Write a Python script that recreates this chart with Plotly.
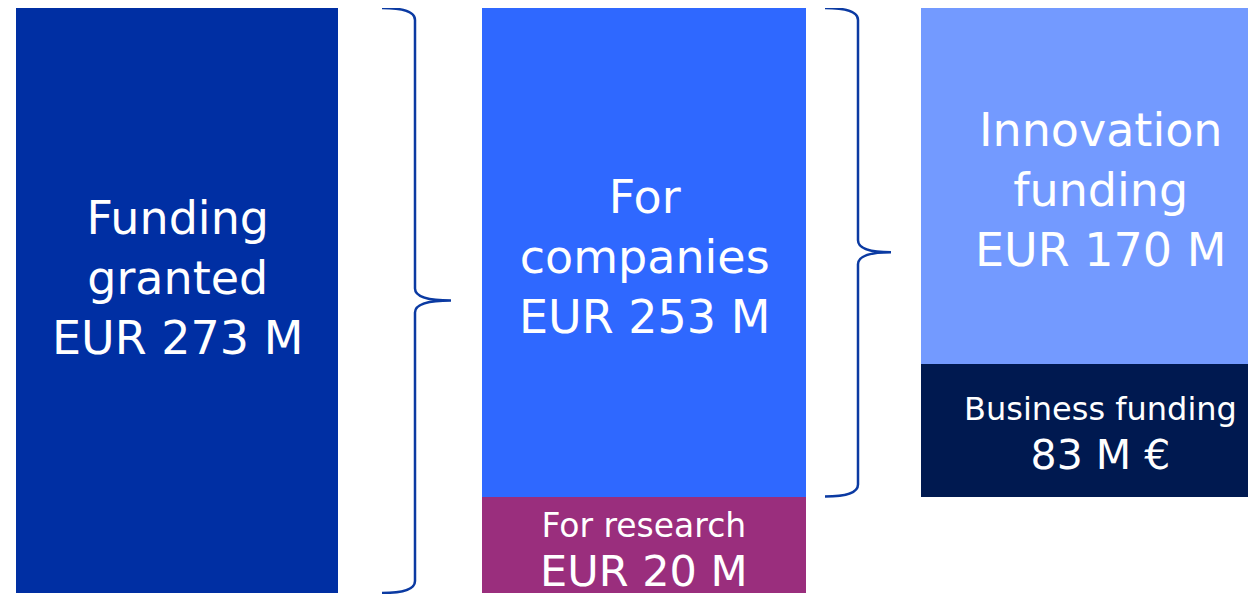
import plotly.graph_objects as go

# ---- data (segment heights, labels as printed) ----
columns = ["Funding granted", "Split", "Type"]
segment_names = ["Funding granted", "For research", "For companies", "Business funding", "Innovation funding"]
segment_column = [0, 1, 1, 2, 2]
segment_heights = [273, 45, 228, 62, 166]
segment_bases = [0, 0, 45, 45, 107]
label_lines = [
    ["Funding", "granted", "EUR 273 M"],
    ["For research", "EUR 20 M"],
    ["For", "companies", "EUR 253 M"],
    ["Business funding", "83 M €"],
    ["Innovation", "funding", "EUR 170 M"],
]
line_sizes = [
    [46, 46, 46],
    [33, 43],
    [46, 46, 46],
    [32, 41],
    [46, 46, 46],
]
segment_colors = ["#002FA3", "#9A2E7D", "#2F68FF", "#001950", "#739AFF"]
base_sizes = [46, 38, 46, 38, 46]
label_shift = [23, -6, -5, -4, -4]

# layout positions (pixel-like x axis; page has an 8px body margin)
col_x = [169, 636, 1092]
col_w = [322, 324, 358]

W, H = 1256, 594
px_per_unit = 585 / 273
y_lo = -(H - 585) / px_per_unit
y_hi = 273

fig = go.Figure()
for i, name in enumerate(segment_names):
    c = segment_column[i]
    fig.add_trace(go.Bar(
        x=[col_x[c]], y=[segment_heights[i]], base=[segment_bases[i]],
        width=[col_w[c]], marker=dict(color=segment_colors[i], line=dict(width=0)),
        name=name, showlegend=False, hoverinfo="skip",
    ))
    text = "<br>".join(
        f"<span style='font-size:{s}px'>{t}</span>" if s != base_sizes[i] else t
        for t, s in zip(label_lines[i], line_sizes[i])
    )
    fig.add_annotation(
        x=col_x[c], y=segment_bases[i] + segment_heights[i] / 2,
        xref="x", yref="y", text=text, showarrow=False,
        font=dict(family="DejaVu Sans", size=base_sizes[i], color="white"),
        align="center", yshift=label_shift[i],
    )

def brace(x_end, x_v, x_tip, y_bot, y_top, r=12):
    d = r / px_per_unit
    ym = (y_bot + y_top) / 2
    return (f"M {x_end},{y_top} Q {x_v},{y_top} {x_v},{y_top - d} "
            f"L {x_v},{ym + d} Q {x_v},{ym} {x_tip},{ym} "
            f"Q {x_v},{ym} {x_v},{ym - d} "
            f"L {x_v},{y_bot + d} Q {x_v},{y_bot} {x_end},{y_bot}")

brace_color = "#0B3AA2"
fig.add_shape(type="path", xref="x", yref="y",
              path=brace(374, 407, 443, 0, 273),
              line=dict(color=brace_color, width=2.5))
fig.add_shape(type="path", xref="x", yref="y",
              path=brace(817, 850, 883, segment_heights[1], 273),
              line=dict(color=brace_color, width=2.5))

fig.update_layout(
    width=W, height=H, margin=dict(l=0, r=0, t=0, b=0),
    paper_bgcolor="white", plot_bgcolor="white",
    barmode="overlay", bargap=0,
    xaxis=dict(range=[0, W], visible=False, fixedrange=True),
    yaxis=dict(range=[y_lo, y_hi], visible=False, fixedrange=True),
)
fig.write_html("out.html", config={"displayModeBar": False})
